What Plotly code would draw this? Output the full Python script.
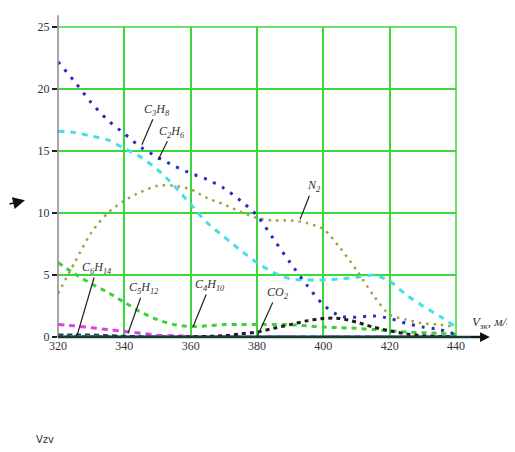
import plotly.graph_objects as go

x = [320, 325, 330, 335, 340, 345, 350, 355, 360, 365, 370, 375, 380,
     385, 390, 395, 400, 405, 410, 415, 420, 425, 430, 435, 440]

c3h8 = [22.2, 20.6, 18.9, 17.5, 16.4, 15.3, 14.5, 13.8, 13.2, 12.7, 12.0, 11.0, 9.8,
        7.9, 6.0, 4.2, 2.6, 1.7, 1.6, 1.7, 1.5, 1.1, 0.8, 0.6, 0.2]
c2h6 = [16.6, 16.5, 16.2, 15.9, 15.2, 14.5, 13.5, 12.2, 10.7, 9.2, 8.1, 7.0, 6.0,
        5.2, 4.7, 4.6, 4.6, 4.7, 4.8, 5.0, 4.5, 3.4, 2.5, 1.7, 0.8]
n2 = [3.5, 6.0, 8.4, 10.0, 11.0, 11.7, 12.2, 12.2, 11.9, 11.2, 10.7, 10.1, 9.6,
      9.4, 9.4, 9.2, 8.7, 7.2, 5.4, 3.4, 1.8, 1.4, 1.1, 1.0, 0.8]
c4h10 = [6.0, 5.1, 4.3, 3.6, 2.8, 2.0, 1.4, 1.0, 0.85, 0.9, 1.0, 1.0, 1.0,
         1.0, 1.0, 0.9, 0.8, 0.75, 0.7, 0.6, 0.5, 0.4, 0.35, 0.3, 0.2]
c5h12 = [1.0, 0.9, 0.75, 0.6, 0.45, 0.3, 0.15, 0.1, 0.05, 0.03, 0.02, 0.02, 0.02,
         0.02, 0.02, 0.02, 0.02, 0.02, 0.02, 0.02, 0.02, 0.02, 0.02, 0.02, 0.02]
c6h14 = [0.2, 0.2, 0.2, 0.15, 0.1, 0.05, 0.03, 0.02, 0.02, 0.02, 0.02, 0.02, 0.02,
         0.02, 0.02, 0.02, 0.02, 0.02, 0.02, 0.02, 0.02, 0.02, 0.02, 0.02, 0.02]
co2 = [0.0, 0.0, 0.0, 0.0, 0.0, 0.0, 0.0, 0.0, 0.02, 0.05, 0.1, 0.25, 0.4,
       0.7, 1.0, 1.3, 1.5, 1.5, 1.2, 0.8, 0.5, 0.25, 0.1, 0.05, 0.0]
base = [0.06] * len(x)

x_ticks = [320, 340, 360, 380, 400, 420, 440]
y_ticks = [0, 5, 10, 15, 20, 25]

series = [
    (base, "#44dde0", "solid", 2.5),
    (c6h14, "#3a3a3a", "5px,4px", 2),
    (c5h12, "#e040e0", "6px,5px", 3),
    (c4h10, "#3cd03c", "5px,5px", 3),
    (co2, "#1e1e1e", "4px,4px", 3),
    (n2, "#a8a040", "2.5px,5px", 2.5),
    (c2h6, "#44e0e8", "6px,6px", 3),
    (c3h8, "#2a2ac8", "3px,7px", 3),
]

fig = go.Figure()
for ys, col, dash, w in series:
    fig.add_trace(go.Scatter(x=x, y=ys, mode="lines",
                             line=dict(color=col, dash=dash, width=w, shape="spline", smoothing=0.8),
                             showlegend=False, hoverinfo="skip"))

serif = "Liberation Serif, Times New Roman, serif"
green = "#3ad83a"

fig.update_layout(
    width=515, height=452,
    margin=dict(l=50, r=67, t=17, b=123),
    plot_bgcolor="white", paper_bgcolor="white",
    xaxis=dict(range=[320, 440], tickvals=x_ticks, ticktext=[str(v) for v in x_ticks],
               showgrid=True, gridcolor=green, gridwidth=1.5, zeroline=False,
               showline=False, ticks="", tickfont=dict(family=serif, size=12, color="#333")),
    yaxis=dict(range=[0, 25], tickvals=y_ticks, ticktext=[str(v) for v in y_ticks],
               showgrid=True, gridcolor=green, gridwidth=1.5, zeroline=False,
               showline=False, ticks="outside", ticklen=5, tickwidth=1.5, tickcolor="#222",
               tickfont=dict(family=serif, size=12, color="#333")),
)

# green frame top/right
fig.add_shape(type="line", xref="paper", yref="paper", x0=0, x1=1, y0=1, y1=1,
              line=dict(color=green, width=1.5))
fig.add_shape(type="line", xref="paper", yref="paper", x0=1, x1=1, y0=0, y1=1,
              line=dict(color=green, width=1.5))
# y axis line extended
fig.add_shape(type="line", xref="paper", yref="paper", x0=0, x1=0, y0=0, y1=1.038,
              line=dict(color="#888", width=1.5))
# x axis line with arrow
fig.add_shape(type="line", xref="paper", yref="paper", x0=0, x1=1.07, y0=0, y1=0,
              line=dict(color="#1a3a3a", width=2.5))
fig.add_annotation(xref="paper", yref="paper", x=1.085, y=0, ax=-20, ay=0,
                   showarrow=True, arrowhead=2, arrowsize=1.3, arrowwidth=1.5,
                   arrowcolor="#111", text="")
fig.add_annotation(xref="paper", yref="paper", x=1.035, y=0.012, xanchor="left", yanchor="bottom",
                   text="<i>V</i><sub><i>зк</i></sub><i>, м/с</i>", showarrow=False,
                   font=dict(family=serif, size=13, color="#333"))

# left arrow artifact
fig.add_annotation(xref="paper", yref="paper", x=-0.083, y=0.441, ax=-18, ay=4,
                   showarrow=True, arrowhead=2, arrowsize=1.5, arrowwidth=1.6,
                   arrowcolor="#111", text="")
fig.add_annotation(xref="paper", yref="paper", x=-0.06, y=-0.355, xanchor="left", showarrow=False,
                   text="Vzv", font=dict(family="DejaVu Sans, sans-serif", size=10, color="#333"))

labels = [
    ("C<sub>3</sub>H<sub>8</sub>", 345.3, 15.5, 15, -35),
    ("C<sub>2</sub>H<sub>6</sub>", 350.2, 14.3, 14, -28),
    ("N<sub>2</sub>", 393.0, 9.5, 13, -33),
    ("C<sub>6</sub>H<sub>14</sub>", 325.7, 0.08, 20, -68),
    ("C<sub>5</sub>H<sub>12</sub>", 341.1, 0.3, 16, -45),
    ("C<sub>4</sub>H<sub>10</sub>", 360.7, 0.8, 17, -42),
    ("CO<sub>2</sub>", 380.0, 0.0, 20, -44),
]
for txt, lx, ly, ax, ay in labels:
    fig.add_annotation(x=lx, y=ly, ax=ax, ay=ay, text="<i>" + txt + "</i>",
                       showarrow=True, arrowhead=0, arrowwidth=1.2, arrowcolor="#222",
                       font=dict(family=serif, size=12, color="#333"))

fig.write_html("out.html")
